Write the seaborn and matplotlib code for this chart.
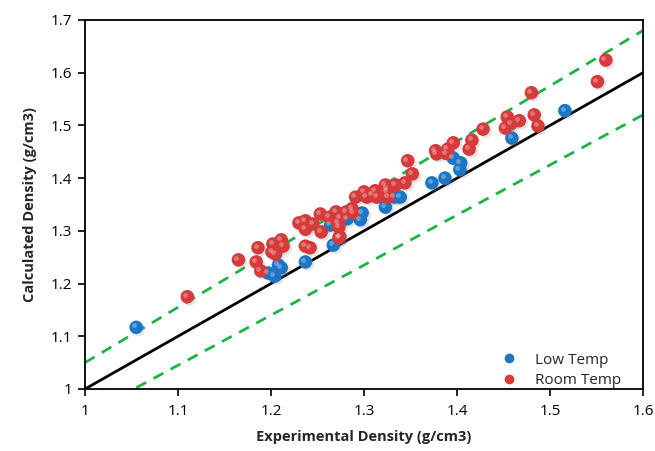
import numpy as np
import pandas as pd
import matplotlib
matplotlib.use("Agg")
import matplotlib.pyplot as plt
import matplotlib.patheffects as pe
from matplotlib.ticker import FuncFormatter
import seaborn as sns

# Experimental vs calculated densities (g/cm3)
low_exp = [1.055, 1.197, 1.204, 1.208, 1.211, 1.237, 1.264, 1.267, 1.282, 1.296,
           1.298, 1.323, 1.333, 1.339, 1.373, 1.387, 1.396, 1.403, 1.404, 1.459, 1.516]
low_calc = [1.117, 1.220, 1.214, 1.235, 1.230, 1.241, 1.311, 1.273, 1.323, 1.321,
            1.334, 1.345, 1.364, 1.364, 1.391, 1.400, 1.438, 1.416, 1.429, 1.476, 1.528]

room_exp = [1.110, 1.165, 1.184, 1.186, 1.189, 1.201, 1.202, 1.205, 1.211, 1.213,
            1.230, 1.237, 1.237, 1.237, 1.242, 1.245, 1.253, 1.254, 1.263, 1.270,
            1.272, 1.273, 1.273, 1.274, 1.274, 1.281, 1.287, 1.288, 1.291, 1.300,
            1.303, 1.309, 1.312, 1.314, 1.323, 1.325, 1.326, 1.334, 1.325, 1.344,
            1.347, 1.352, 1.377, 1.378, 1.388, 1.390, 1.396, 1.413, 1.416, 1.428,
            1.452, 1.454, 1.458, 1.467, 1.480, 1.483, 1.487, 1.551, 1.560]
room_calc = [1.175, 1.245, 1.241, 1.268, 1.224, 1.260, 1.275, 1.256, 1.283, 1.271,
             1.315, 1.319, 1.303, 1.271, 1.268, 1.313, 1.332, 1.298, 1.326, 1.336,
             1.315, 1.307, 1.287, 1.325, 1.289, 1.336, 1.342, 1.334, 1.364, 1.374,
             1.364, 1.368, 1.376, 1.364, 1.387, 1.374, 1.364, 1.387, 1.379, 1.391,
             1.433, 1.408, 1.452, 1.446, 1.447, 1.455, 1.467, 1.455, 1.472, 1.493,
             1.495, 1.516, 1.503, 1.509, 1.562, 1.520, 1.499, 1.583, 1.624]

groups = ["Low Temp", "Room Temp"]
colors = ["#1c76c6", "#d63a3a"]

df = pd.DataFrame({
    "exp": low_exp + room_exp,
    "calc": low_calc + room_calc,
    "group": [groups[0]] * len(low_exp) + [groups[1]] * len(room_exp),
})

sns.set_style("white")
plt.rcParams["font.family"] = ["Open Sans", "DejaVu Sans"]

fig = plt.figure(figsize=(6.55, 4.51), dpi=100)
ax = fig.add_axes([0.1298, 0.1375, 0.8519, 0.8182])

# parity line and +/-5 % bounds
xs = np.array([1.0, 1.6])
ax.plot(xs, xs, color="black", lw=2.0, zorder=2)
ax.plot(xs, 1.05 * xs, color="#1db446", lw=2.0, ls=(0, (4, 3)), zorder=2)
ax.plot(xs, 0.95 * xs, color="#1db446", lw=2.0, ls=(0, (4, 3)), zorder=2)

sns.scatterplot(data=df, x="exp", y="calc", hue="group", hue_order=groups,
                palette=colors, s=95, edgecolor="none", linewidth=0,
                ax=ax, zorder=3, legend=False)
for coll in ax.collections:
    coll.set_path_effects([pe.SimplePatchShadow(offset=(1.5, -1.5), alpha=0.22,
                                                shadow_rgbFace="gray"),
                           pe.Normal()])
# glossy highlight on each sphere
ax.scatter(df["exp"] - 0.0025, df["calc"] + 0.0035, s=12, color="white",
           alpha=0.3, linewidth=0, zorder=4)

ax.set_xlim(1.0, 1.6)
ax.set_ylim(1.0, 1.7)
ax.set_xticks(np.arange(1.0, 1.61, 0.1))
ax.set_yticks(np.arange(1.0, 1.71, 0.1))
fmt = FuncFormatter(lambda v, p: f"{v:.1f}".rstrip("0").rstrip("."))
ax.xaxis.set_major_formatter(fmt)
ax.yaxis.set_major_formatter(fmt)
ax.tick_params(axis="both", direction="out", length=5, width=1.2,
               labelsize=11, colors="black", pad=4)
ax.tick_params(axis="x", bottom=True, pad=6)
ax.tick_params(axis="y", left=True)
for sp in ax.spines.values():
    sp.set_color("black")
    sp.set_linewidth(1.3)

ax.set_xlabel("Experimental Density (g/cm3)", fontsize=10.5, fontweight="bold", labelpad=8)
ax.set_ylabel("Calculated Density (g/cm3)", fontsize=10.5, fontweight="bold", labelpad=10)

handles = [plt.Line2D([], [], marker="o", ls="none", markersize=7,
                      markerfacecolor=c, markeredgecolor="none") for c in colors]
ax.legend(handles, groups, loc="lower right", bbox_to_anchor=(0.985, -0.035),
          frameon=False, fontsize=11, handletextpad=0.7, labelspacing=0.35)

fig.savefig("out.png", dpi=100)
